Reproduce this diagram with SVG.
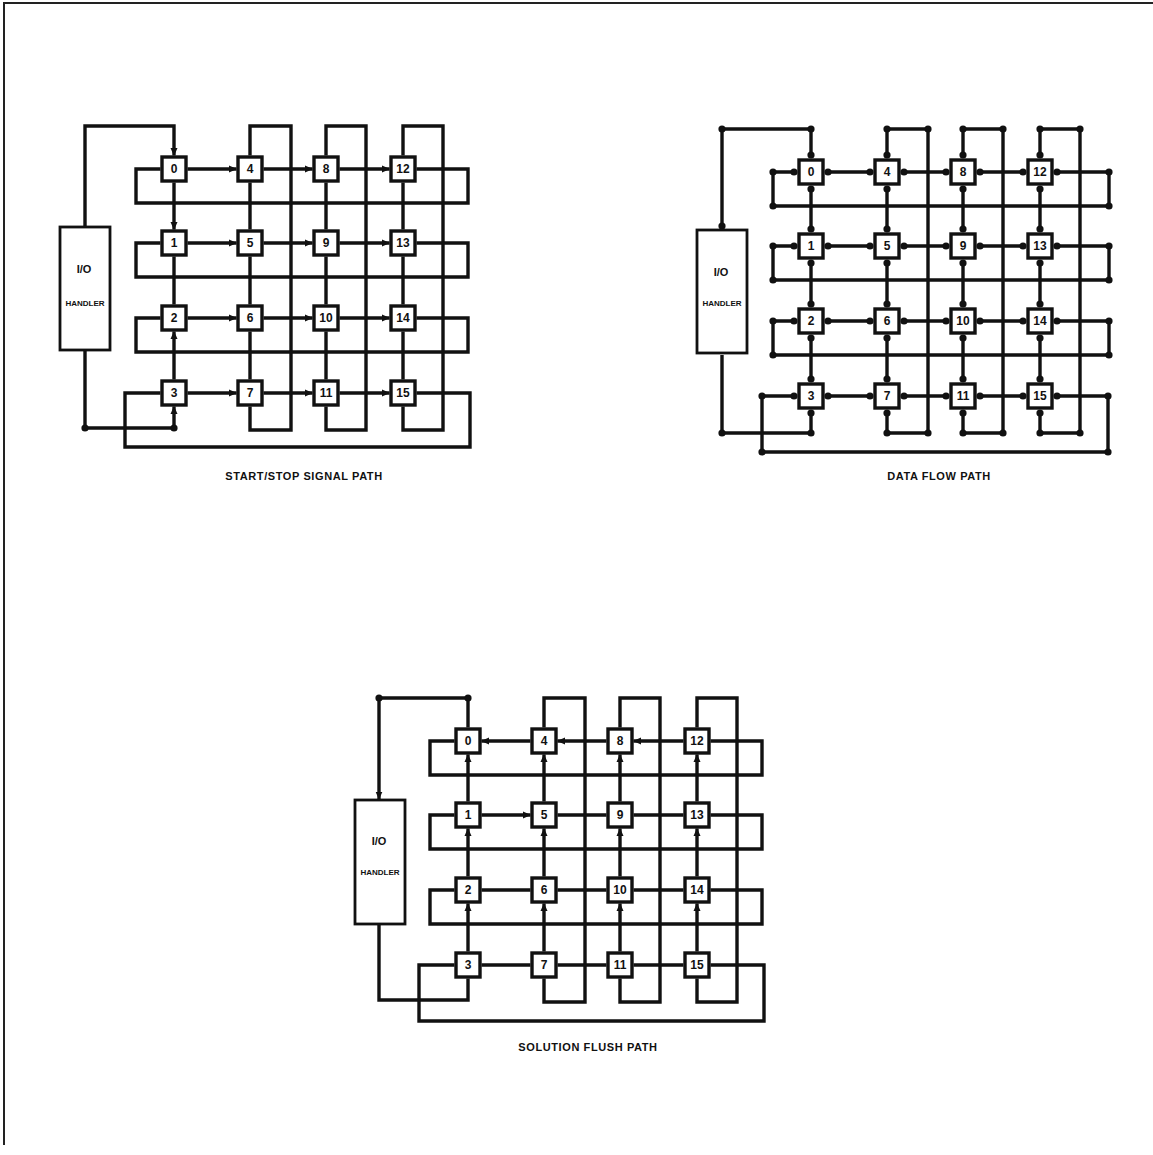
<svg xmlns="http://www.w3.org/2000/svg" width="1153" height="1155" viewBox="0 0 1153 1155">
<defs>
<style>
.ln{fill:none;stroke:#111;stroke-width:3.4;stroke-linecap:butt;stroke-linejoin:miter}
.bx{fill:#fff;stroke:#111;stroke-width:3.4}
.io{fill:#fff;stroke:#111;stroke-width:2.8}
.num{font-family:"Liberation Sans",Arial,sans-serif;font-weight:bold;font-size:12px;text-anchor:middle;fill:#111}
.iot{font-family:"Liberation Sans",Arial,sans-serif;font-weight:bold;font-size:11px;text-anchor:middle;fill:#111}
.iot2{font-family:"Liberation Sans",Arial,sans-serif;font-weight:bold;font-size:8px;text-anchor:middle;fill:#111}
.cap{font-family:"Liberation Sans",Arial,sans-serif;font-weight:bold;font-size:11px;text-anchor:middle;fill:#111;letter-spacing:0.6px}
.a{marker-end:url(#ah)}
.sr{marker-start:url(#ah)}
.m{marker-mid:url(#dot)}
.me{marker-mid:url(#dot);marker-end:url(#dot)}
.d3{marker-start:url(#dot);marker-mid:url(#dot);marker-end:url(#dot)}
.border{fill:none;stroke:#222;stroke-width:2}
</style>
<marker id="ah" viewBox="0 0 8 8" refX="7.5" refY="4" markerWidth="8" markerHeight="8" markerUnits="userSpaceOnUse" orient="auto-start-reverse"><path d="M0,0.5L8,4L0,7.5Z" fill="#111"/></marker>
<marker id="dot" viewBox="-4 -4 8 8" refX="0" refY="0" markerWidth="8" markerHeight="8" markerUnits="userSpaceOnUse"><circle r="3.6" fill="#111"/></marker>
</defs>
<rect width="1153" height="1155" fill="#fff"/>
<path class="border" d="M1153,3H4V1145"/>

<!-- Diagram A: START/STOP SIGNAL PATH -->
<g id="diagram-A">
<g id="A-connectors">
<path class="ln a" d="M85,227V126H174V155.5"/>
<path class="ln m a" d="M85,350V428H174V406.5"/>
<path class="ln a" d="M174,182.5V229.5"/>
<path class="ln" d="M174,256.5V304.5"/>
<path class="ln a" d="M174,379.5V331.5"/>
<path class="ln" d="M250,182.5V229.5M250,256.5V304.5M250,331.5V379.5"/>
<path class="ln" d="M250,406.5V430H291V126H250V155.5"/>
<path class="ln" d="M326,182.5V229.5M326,256.5V304.5M326,331.5V379.5"/>
<path class="ln" d="M326,406.5V430H366V126H326V155.5"/>
<path class="ln" d="M403,182.5V229.5M403,256.5V304.5M403,331.5V379.5"/>
<path class="ln" d="M403,406.5V430H443V126H403V155.5"/>
<path class="ln a" d="M187.5,169H236.5"/><path class="ln a" d="M263.5,169H312.5"/><path class="ln a" d="M339.5,169H389.5"/>
<path class="ln" d="M416.5,169H468V203H136V169H160.5"/>
<path class="ln a" d="M187.5,243H236.5"/><path class="ln a" d="M263.5,243H312.5"/><path class="ln a" d="M339.5,243H389.5"/>
<path class="ln" d="M416.5,243H468V277H136V243H160.5"/>
<path class="ln a" d="M187.5,318H236.5"/><path class="ln a" d="M263.5,318H312.5"/><path class="ln a" d="M339.5,318H389.5"/>
<path class="ln" d="M416.5,318H468V352H136V318H160.5"/>
<path class="ln a" d="M187.5,393H236.5"/><path class="ln a" d="M263.5,393H312.5"/><path class="ln a" d="M339.5,393H389.5"/>
<path class="ln" d="M416.5,393H470V447H125V393H160.5"/>
</g>
<g id="A-io"><rect class="io" x="60" y="227" width="50" height="123"/><text class="iot" x="84" y="273">I/O</text><text class="iot2" x="85" y="306">HANDLER</text></g>
<g id="A-n0"><rect class="bx" x="162" y="157" width="24" height="24"/><text class="num" x="174" y="173">0</text></g>
<g id="A-n1"><rect class="bx" x="162" y="231" width="24" height="24"/><text class="num" x="174" y="247">1</text></g>
<g id="A-n2"><rect class="bx" x="162" y="306" width="24" height="24"/><text class="num" x="174" y="322">2</text></g>
<g id="A-n3"><rect class="bx" x="162" y="381" width="24" height="24"/><text class="num" x="174" y="397">3</text></g>
<g id="A-n4"><rect class="bx" x="238" y="157" width="24" height="24"/><text class="num" x="250" y="173">4</text></g>
<g id="A-n5"><rect class="bx" x="238" y="231" width="24" height="24"/><text class="num" x="250" y="247">5</text></g>
<g id="A-n6"><rect class="bx" x="238" y="306" width="24" height="24"/><text class="num" x="250" y="322">6</text></g>
<g id="A-n7"><rect class="bx" x="238" y="381" width="24" height="24"/><text class="num" x="250" y="397">7</text></g>
<g id="A-n8"><rect class="bx" x="314" y="157" width="24" height="24"/><text class="num" x="326" y="173">8</text></g>
<g id="A-n9"><rect class="bx" x="314" y="231" width="24" height="24"/><text class="num" x="326" y="247">9</text></g>
<g id="A-n10"><rect class="bx" x="314" y="306" width="24" height="24"/><text class="num" x="326" y="322">10</text></g>
<g id="A-n11"><rect class="bx" x="314" y="381" width="24" height="24"/><text class="num" x="326" y="397">11</text></g>
<g id="A-n12"><rect class="bx" x="391" y="157" width="24" height="24"/><text class="num" x="403" y="173">12</text></g>
<g id="A-n13"><rect class="bx" x="391" y="231" width="24" height="24"/><text class="num" x="403" y="247">13</text></g>
<g id="A-n14"><rect class="bx" x="391" y="306" width="24" height="24"/><text class="num" x="403" y="322">14</text></g>
<g id="A-n15"><rect class="bx" x="391" y="381" width="24" height="24"/><text class="num" x="403" y="397">15</text></g>
<text class="cap" x="304" y="480">START/STOP SIGNAL PATH</text>
</g>

<!-- Diagram B: DATA FLOW PATH -->
<g id="diagram-B" transform="translate(637,3)">
<g id="B-connectors">
<path class="ln d3" d="M85,223V126H174V152"/>
<path class="ln me" d="M85,352V430H174V410"/>
<path class="ln d3" d="M174,186V226M174,260V301M174,335V376"/>
<path class="ln d3" d="M250,186V226M250,260V301M250,335V376"/>
<path class="ln d3" d="M250,410V430H291V126H250V152"/>
<path class="ln d3" d="M326,186V226M326,260V301M326,335V376"/>
<path class="ln d3" d="M326,410V430H366V126H326V152"/>
<path class="ln d3" d="M403,186V226M403,260V301M403,335V376"/>
<path class="ln d3" d="M403,410V430H443V126H403V152"/>
<path class="ln d3" d="M191,169H233M267,169H309M343,169H386"/>
<path class="ln d3" d="M420,169H472V203H136V169H157"/>
<path class="ln d3" d="M191,243H233M267,243H309M343,243H386"/>
<path class="ln d3" d="M420,243H472V277H136V243H157"/>
<path class="ln d3" d="M191,318H233M267,318H309M343,318H386"/>
<path class="ln d3" d="M420,318H472V352H136V318H157"/>
<path class="ln d3" d="M191,393H233M267,393H309M343,393H386"/>
<path class="ln d3" d="M420,393H471V449H125V393H157"/>
</g>
<g id="B-io"><rect class="io" x="60" y="227" width="50" height="123"/><text class="iot" x="84" y="273">I/O</text><text class="iot2" x="85" y="303">HANDLER</text></g>
<g id="B-n0"><rect class="bx" x="162" y="157" width="24" height="24"/><text class="num" x="174" y="173">0</text></g>
<g id="B-n1"><rect class="bx" x="162" y="231" width="24" height="24"/><text class="num" x="174" y="247">1</text></g>
<g id="B-n2"><rect class="bx" x="162" y="306" width="24" height="24"/><text class="num" x="174" y="322">2</text></g>
<g id="B-n3"><rect class="bx" x="162" y="381" width="24" height="24"/><text class="num" x="174" y="397">3</text></g>
<g id="B-n4"><rect class="bx" x="238" y="157" width="24" height="24"/><text class="num" x="250" y="173">4</text></g>
<g id="B-n5"><rect class="bx" x="238" y="231" width="24" height="24"/><text class="num" x="250" y="247">5</text></g>
<g id="B-n6"><rect class="bx" x="238" y="306" width="24" height="24"/><text class="num" x="250" y="322">6</text></g>
<g id="B-n7"><rect class="bx" x="238" y="381" width="24" height="24"/><text class="num" x="250" y="397">7</text></g>
<g id="B-n8"><rect class="bx" x="314" y="157" width="24" height="24"/><text class="num" x="326" y="173">8</text></g>
<g id="B-n9"><rect class="bx" x="314" y="231" width="24" height="24"/><text class="num" x="326" y="247">9</text></g>
<g id="B-n10"><rect class="bx" x="314" y="306" width="24" height="24"/><text class="num" x="326" y="322">10</text></g>
<g id="B-n11"><rect class="bx" x="314" y="381" width="24" height="24"/><text class="num" x="326" y="397">11</text></g>
<g id="B-n12"><rect class="bx" x="391" y="157" width="24" height="24"/><text class="num" x="403" y="173">12</text></g>
<g id="B-n13"><rect class="bx" x="391" y="231" width="24" height="24"/><text class="num" x="403" y="247">13</text></g>
<g id="B-n14"><rect class="bx" x="391" y="306" width="24" height="24"/><text class="num" x="403" y="322">14</text></g>
<g id="B-n15"><rect class="bx" x="391" y="381" width="24" height="24"/><text class="num" x="403" y="397">15</text></g>
<text class="cap" x="302" y="477">DATA FLOW PATH</text>
</g>

<!-- Diagram C: SOLUTION FLUSH PATH -->
<g id="diagram-C" transform="translate(294,572)">
<g id="C-connectors">
<path class="ln sr m" d="M85,227V126H174V155.5"/>
<path class="ln" d="M85,350V428H174V406.5"/>
<path class="ln a" d="M174,229.5V182.5"/><path class="ln a" d="M174,304.5V256.5"/><path class="ln a" d="M174,379.5V331.5"/>
<path class="ln a" d="M250,229.5V182.5"/><path class="ln a" d="M250,304.5V256.5"/><path class="ln a" d="M250,379.5V331.5"/>
<path class="ln" d="M250,406.5V430H291V126H250V155.5"/>
<path class="ln a" d="M326,229.5V182.5"/><path class="ln a" d="M326,304.5V256.5"/><path class="ln a" d="M326,379.5V331.5"/>
<path class="ln" d="M326,406.5V430H366V126H326V155.5"/>
<path class="ln a" d="M403,229.5V182.5"/><path class="ln a" d="M403,304.5V256.5"/><path class="ln a" d="M403,379.5V331.5"/>
<path class="ln" d="M403,406.5V430H443V126H403V155.5"/>
<path class="ln a" d="M236.5,169H187.5"/><path class="ln a" d="M312.5,169H263.5"/><path class="ln a" d="M389.5,169H339.5"/>
<path class="ln" d="M416.5,169H468V203H136V169H160.5"/>
<path class="ln a" d="M187.5,243H236.5"/><path class="ln" d="M263.5,243H312.5M339.5,243H389.5"/>
<path class="ln" d="M416.5,243H468V277H136V243H160.5"/>
<path class="ln" d="M187.5,318H236.5M263.5,318H312.5M339.5,318H389.5"/>
<path class="ln" d="M416.5,318H468V352H136V318H160.5"/>
<path class="ln" d="M187.5,393H236.5M263.5,393H312.5M339.5,393H389.5"/>
<path class="ln" d="M416.5,393H470V449H125V393H160.5"/>
</g>
<g id="C-io"><rect class="io" x="61" y="228" width="50" height="124"/><text class="iot" x="85" y="273">I/O</text><text class="iot2" x="86" y="303">HANDLER</text></g>
<g id="C-n0"><rect class="bx" x="162" y="157" width="24" height="24"/><text class="num" x="174" y="173">0</text></g>
<g id="C-n1"><rect class="bx" x="162" y="231" width="24" height="24"/><text class="num" x="174" y="247">1</text></g>
<g id="C-n2"><rect class="bx" x="162" y="306" width="24" height="24"/><text class="num" x="174" y="322">2</text></g>
<g id="C-n3"><rect class="bx" x="162" y="381" width="24" height="24"/><text class="num" x="174" y="397">3</text></g>
<g id="C-n4"><rect class="bx" x="238" y="157" width="24" height="24"/><text class="num" x="250" y="173">4</text></g>
<g id="C-n5"><rect class="bx" x="238" y="231" width="24" height="24"/><text class="num" x="250" y="247">5</text></g>
<g id="C-n6"><rect class="bx" x="238" y="306" width="24" height="24"/><text class="num" x="250" y="322">6</text></g>
<g id="C-n7"><rect class="bx" x="238" y="381" width="24" height="24"/><text class="num" x="250" y="397">7</text></g>
<g id="C-n8"><rect class="bx" x="314" y="157" width="24" height="24"/><text class="num" x="326" y="173">8</text></g>
<g id="C-n9"><rect class="bx" x="314" y="231" width="24" height="24"/><text class="num" x="326" y="247">9</text></g>
<g id="C-n10"><rect class="bx" x="314" y="306" width="24" height="24"/><text class="num" x="326" y="322">10</text></g>
<g id="C-n11"><rect class="bx" x="314" y="381" width="24" height="24"/><text class="num" x="326" y="397">11</text></g>
<g id="C-n12"><rect class="bx" x="391" y="157" width="24" height="24"/><text class="num" x="403" y="173">12</text></g>
<g id="C-n13"><rect class="bx" x="391" y="231" width="24" height="24"/><text class="num" x="403" y="247">13</text></g>
<g id="C-n14"><rect class="bx" x="391" y="306" width="24" height="24"/><text class="num" x="403" y="322">14</text></g>
<g id="C-n15"><rect class="bx" x="391" y="381" width="24" height="24"/><text class="num" x="403" y="397">15</text></g>
<text class="cap" x="294" y="479">SOLUTION FLUSH PATH</text>
</g>
</svg>
